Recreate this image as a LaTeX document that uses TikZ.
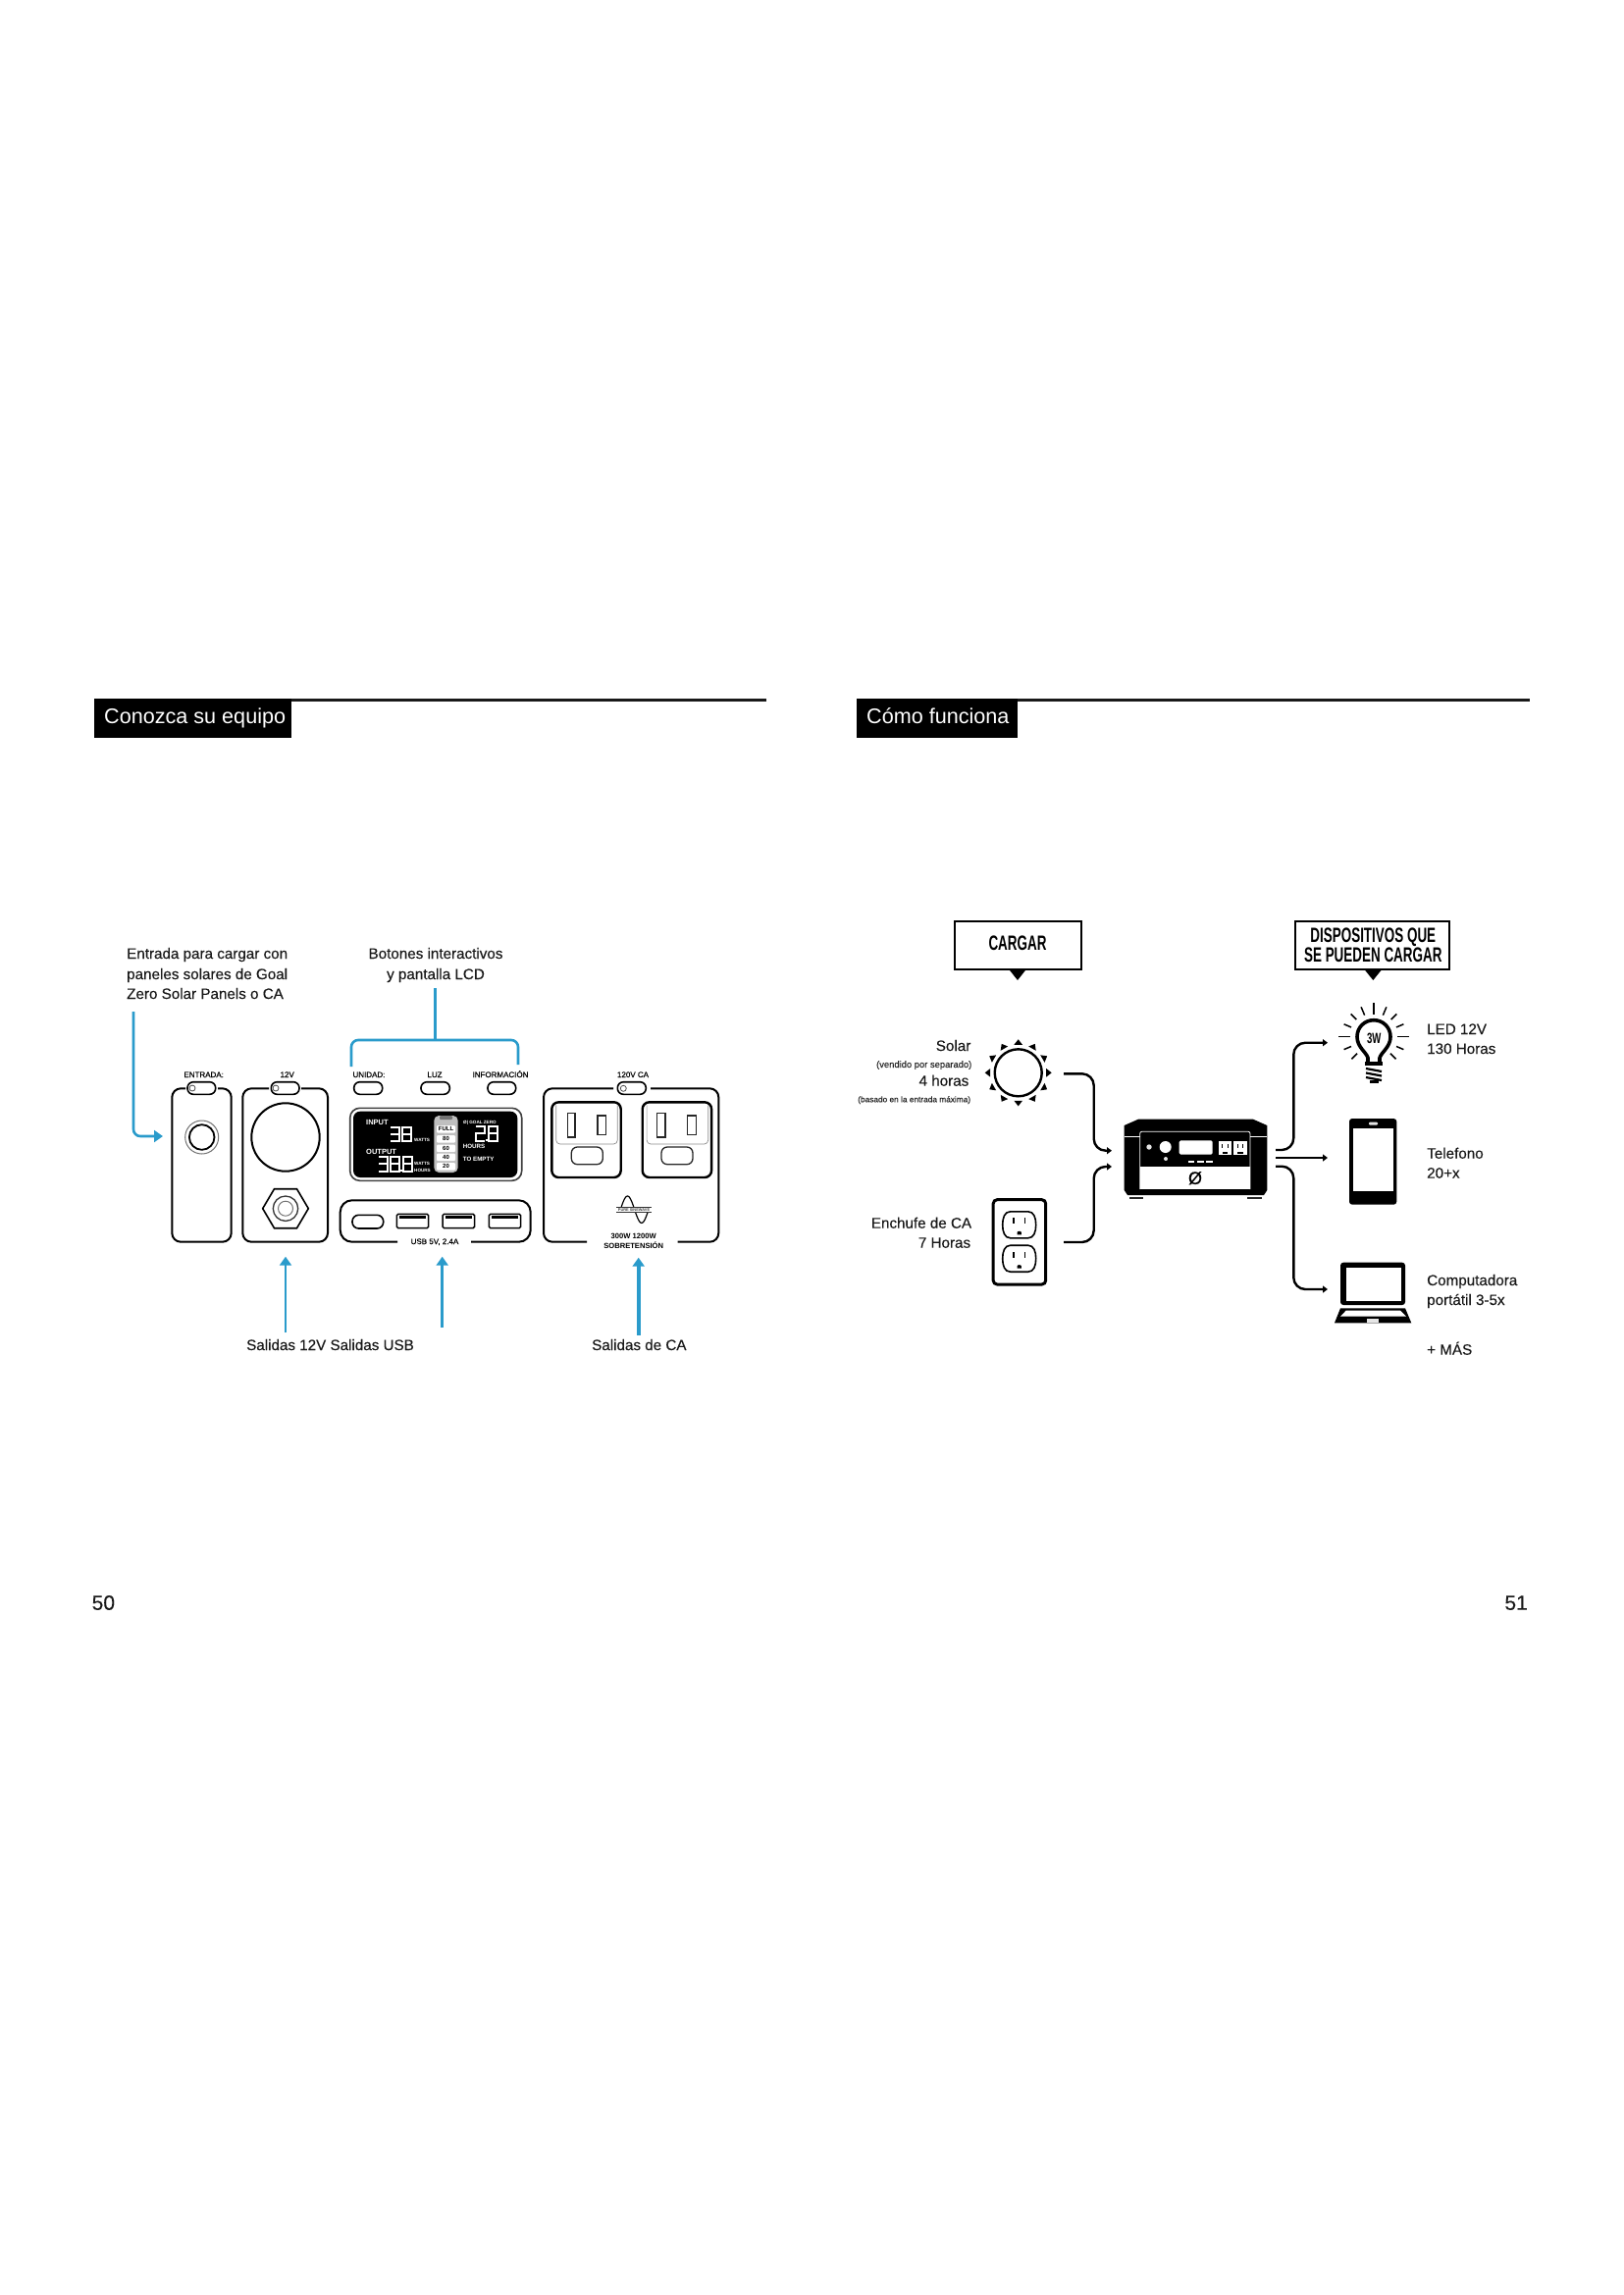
\documentclass[tikz,border=0pt]{standalone}
\usepackage{fontspec}
\usetikzlibrary{arrows.meta}
\setmainfont{Liberation Sans}
\newfontfamily\condfont[FakeStretch=0.64]{Liberation Sans}
\newfontfamily\medfont[FakeBold=0.35]{Liberation Sans}
\newfontfamily\bodyfont[FakeBold=0.12]{Liberation Sans}
\definecolor{wireblue}{HTML}{2A9BCB}
\newcommand{\fsz}[1]{\fontsize{#1}{#1}\selectfont}
\newcommand{\segthree}[4]{\draw[segline] (#1,#2) -- (#1+#3,#2) -- (#1+#3,#2+#4) -- (#1,#2+#4) (#1,#2+#4/2) -- (#1+#3,#2+#4/2);}
\newcommand{\segeight}[4]{\draw[segline] (#1,#2) rectangle (#1+#3,#2+#4) (#1,#2+#4/2) -- (#1+#3,#2+#4/2);}
\newcommand{\segtwo}[4]{\draw[segline] (#1,#2) -- (#1+#3,#2) -- (#1+#3,#2+#4/2) -- (#1,#2+#4/2) -- (#1,#2+#4) -- (#1+#3,#2+#4);}
\tikzset{
  body/.style={font=\bodyfont\fsz{15.2},inner sep=0pt,text=black!90},
  pagenum/.style={font=\bodyfont\fsz{21},inner sep=0pt,text=black!90},
  headtxt/.style={font=\fsz{21.6},inner sep=0pt,text=white},
  tiny/.style={font=\medfont\fsz{8},inner sep=0pt,text=black},
  tinybold/.style={font=\fsz{7.6}\bfseries,inner sep=0pt,text=black},
  note/.style={font=\bodyfont\fsz{8.3},inner sep=0pt,text=black!85},
  lcdtxt/.style={font=\fsz{7.5}\bfseries,inner sep=0pt,text=white},
  lcdsmall/.style={font=\fsz{4.6}\bfseries,inner sep=0pt,text=white},
  cell/.style={font=\fsz{6}\bfseries,inner sep=0pt,text=black},
  boxtitle/.style={font=\condfont\bfseries\fsz{21},inner sep=0pt,text=black},
  panel/.style={draw=black,line width=2pt,rounded corners=9pt},
  pill/.style={draw=black,line width=1.6pt,rounded corners=6pt,fill=white},
  bluewire/.style={draw=wireblue,line width=2.6pt,rounded corners=7pt},
  bluearrow/.style={draw=wireblue,line width=2.6pt,rounded corners=7pt,-{Triangle[length=9pt,width=12pt,fill=wireblue]}},
  blackarrow/.style={draw=black,line width=2.4pt,rounded corners=12pt,-{Triangle[length=5pt,width=7pt]}},
  segline/.style={draw=white,line width=2pt,line cap=butt},
  outletbox/.style={draw=black,line width=2.4pt,rounded corners=7pt},
  slot/.style={draw=black!85,line width=1.3pt},
  titlebox/.style={draw=black,line width=2.2pt,fill=white},
  wallsocket/.pic={
    \draw[line width=1.6pt] (-9,-13.5) -- (9,-13.5) .. controls (15,-13.5) and (17,-7) .. (17,0) .. controls (17,7) and (15,13.5) .. (9,13.5) -- (-9,13.5) .. controls (-15,13.5) and (-17,7) .. (-17,0) .. controls (-17,-7) and (-15,-13.5) .. (-9,-13.5) -- cycle;
    \fill (-6.6,-7) rectangle (-5.2,-1);
    \fill (5.2,-7) rectangle (6.6,-1);
    \fill (-2.2,10) -- (-2.2,7.8) .. controls (-2.2,6) and (2.2,6) .. (2.2,7.8) -- (2.2,10) -- cycle;
  },
  usbport/.pic={
    \draw[line width=1.5pt,rounded corners=1.5pt] (0,0) rectangle (32.4,14.4);
    \fill (3,1.5) rectangle (29.4,5);
  },
  acoutlet/.pic={
    \draw[outletbox] (0,0) rectangle (70.4,76.7);
    \draw[draw=black!45,line width=.7pt,rounded corners=4pt] (4.4,3) -- (4.4,42.7) -- (67,42.7) -- (67,3);
  }
}
\begin{document}
\begin{tikzpicture}[x=1pt,y=-1pt]
\useasboundingbox (0,0) rectangle (1654,2339);
\fill[white] (0,0) rectangle (1654,2339);

% ---- page headers
\draw[black!90,line width=2.6pt] (96,713.5) -- (781,713.5);
\fill[black] (96,712) rectangle (297,752);
\node[headtxt,anchor=base west] (hleft) at (106,737.5) {Conozca su equipo};
\draw[black!90,line width=2.6pt] (873,713.5) -- (1558.5,713.5);
\fill[black] (873,712) rectangle (1036.5,752);
\node[headtxt,anchor=base west] (hright) at (883,737.5) {Cómo funciona};
\node[pagenum,anchor=base west] (p50) at (93.5,1640.7) {50};
\node[pagenum,anchor=base east] (p51) at (1557,1640.7) {51};

% ---- left page: text
\node[body,anchor=base west] (t1a) at (129,977) {Entrada para cargar con};
\node[body,anchor=base west] (t1b) at (129,998) {paneles solares de Goal};
\node[body,anchor=base west] (t1c) at (129,1018) {Zero Solar Panels o CA};
\node[body,anchor=base] (t2a) at (444,977) {Botones interactivos};
\node[body,anchor=base] (t2b) at (444,998) {y pantalla LCD};
\node[body,anchor=base west] (t3) at (251,1376) {Salidas 12V Salidas USB};
\node[body,anchor=base west] (t4) at (603,1376) {Salidas de CA};

% small labels
\node[tiny,anchor=base] (lent) at (207.7,1098) {ENTRADA:};
\node[tiny,anchor=base] (l12) at (292.7,1098) {12V};
\node[tiny,anchor=base] (luni) at (376,1098) {UNIDAD:};
\node[tiny,anchor=base] (lluz) at (443,1098) {LUZ};
\node[tiny,anchor=base] (linf) at (510,1098) {INFORMACIÓN};
\node[tiny,anchor=base] (lac) at (645,1098) {120V CA};
\node[tiny,anchor=base] (lusb) at (443,1268) {USB 5V, 2.4A};
\node[tinybold,anchor=base] (l300) at (645.7,1262.7) {300W 1200W};
\node[tinybold,anchor=base] (lsob) at (645.7,1272.7) {SOBRETENSIÓN};

% blue connectors
\coordinate (bA) at (136,1031); \coordinate (bAc) at (136,1158); \coordinate (bAe) at (166,1158);
\draw[bluearrow] (bA) -- (bAc) -- (bAe);
\coordinate (bBt) at (443.7,1007); \coordinate (bBm) at (443.7,1060);
\draw[bluewire,rounded corners=0pt] (bBt) -- (bBm);
\coordinate (bBl) at (358,1087); \coordinate (bBlc) at (358,1060); \coordinate (bBrc) at (528,1060); \coordinate (bBr) at (528,1085);
\draw[bluewire] (bBl) -- (bBlc) -- (bBrc) -- (bBr);
\coordinate (bC) at (291,1358.3); \coordinate (bCe) at (291,1280.7);
\draw[bluearrow] (bC) -- (bCe);
\coordinate (bD) at (450.7,1353); \coordinate (bDe) at (450.7,1280.7);
\draw[bluearrow] (bD) -- (bDe);
\coordinate (bE) at (650.7,1360.7); \coordinate (bEe) at (650.7,1281.7);
\draw[bluearrow,line width=3.8pt] (bE) -- (bEe);

% entrada panel
\draw[panel] (189,1109.3) -- (175.3,1109.3) -- (175.3,1265.7) -- (235.7,1265.7) -- (235.7,1109.3) -- (222,1109.3);
\draw[pill] (191,1102.7) rectangle (219.7,1115.3);
\draw[black!70,line width=.8pt] (196,1109) circle[radius=3];
\draw[black!55,line width=1pt] (205.7,1159) circle[radius=17];
\draw[black,line width=1.8pt] (205.7,1159) circle[radius=12.8];

% 12V panel
\draw[panel] (274,1109.3) -- (247.3,1109.3) -- (247.3,1265.7) -- (334,1265.7) -- (334,1109.3) -- (307,1109.3);
\draw[pill] (276.3,1102.7) rectangle (305,1115.3);
\draw[black!70,line width=.8pt] (281,1109) circle[radius=3];
\draw[black,line width=2pt] (291,1159) circle[radius=34.7];
\draw[black,line width=1.6pt] (267.7,1231.7) -- (279.5,1211.7) -- (302.5,1211.7) -- (314.3,1231.7) -- (302.5,1251.7) -- (279.5,1251.7) -- cycle;
\draw[black!80,line width=1.3pt] (291,1231.7) circle[radius=12.7];
\draw[black!55,line width=1pt] (291,1231.7) circle[radius=7.5];

% middle buttons
\draw[pill] (360.7,1102.7) rectangle (389.7,1115.3);
\draw[pill] (429,1102.7) rectangle (458.3,1115.3);
\draw[pill] (497,1102.7) rectangle (525.7,1115.3);

% LCD
\draw[black!75,line width=1.6pt,rounded corners=10pt] (356.7,1129.3) rectangle (531.7,1203.3);
\fill[black,rounded corners=7pt] (360,1132.7) rectangle (527.3,1200);
\node[lcdtxt,anchor=base west] (inp) at (373,1146) {INPUT};
\node[lcdtxt,anchor=base west] (oup) at (373,1176.7) {OUTPUT};
\segthree{398}{1148.5}{8.5}{14}
\segeight{410}{1148.5}{8.5}{14}
\segthree{386}{1179}{8.5}{14.5}
\segeight{398}{1179}{8.5}{14.5}
\fill[white] (408.4,1192.3) rectangle (410,1194);
\segeight{411}{1179}{8.5}{14.5}
\node[lcdsmall,anchor=base west] (wa1) at (422,1163.5) {WATTS};
\node[lcdsmall,anchor=base west] (wa2) at (422,1187) {WATTS};
\node[lcdsmall,anchor=base west] (ho2) at (422,1194) {HOURS};
% battery
\fill[black!25,rounded corners=5pt] (442.3,1137) rectangle (466.7,1195);
\fill[black!55,rounded corners=1pt] (448,1137) rectangle (461,1141);
\foreach \yy/\tt/\nn in {1147/FULL/c1,1157/80/c2,1166.5/60/c3,1175.5/40/c4,1185/20/c5}{
  \fill[white,rounded corners=1pt] (445,\yy) rectangle (464,\yy+7.6);
  \node[cell,anchor=center] (\nn) at (454.5,\yy+3.8) {\tt};
}
\node[lcdsmall,anchor=base west] (gz) at (472,1145) {Ø| GOAL ZERO};
\segtwo{485}{1148}{8.5}{14.5}
\fill[white] (495,1161) rectangle (496.6,1162.7);
\segeight{498}{1148}{8.5}{14.5}
\node[font=\fsz{6.2}\bfseries,inner sep=0pt,text=white,anchor=base west] (hrs) at (471.7,1170) {HOURS};
\node[font=\fsz{6.2}\bfseries,inner sep=0pt,text=white,anchor=base west] (emp) at (471.7,1183) {TO EMPTY};

% USB panel
\draw[panel,rounded corners=12pt] (405,1265.7) -- (346.7,1265.7) -- (346.7,1223.3) -- (540.7,1223.3) -- (540.7,1265.7) -- (480,1265.7);
\draw[pill,rounded corners=6.5pt] (359,1238.3) rectangle (390.7,1252);
\pic[black] at (404.3,1237.3) {usbport};
\pic[black] at (451.1,1237.3) {usbport};
\pic[black] at (498.3,1237.3) {usbport};

% AC panel
\draw[panel] (625,1109.3) -- (554,1109.3) -- (554,1265.7) -- (598,1265.7);
\draw[panel] (663,1109.3) -- (732.3,1109.3) -- (732.3,1265.7) -- (690.7,1265.7);
\draw[pill] (629.3,1102.7) rectangle (658.3,1115.3);
\draw[black!70,line width=.8pt] (635.3,1109.3) circle[radius=3];
\pic at (562.3,1123.3) {acoutlet};
\pic at (654.7,1123.3) {acoutlet};
\draw[slot] (578.3,1134.3) rectangle (586,1159);
\draw[slot] (609,1137) rectangle (617.7,1156.3);
\draw[slot,rounded corners=6pt] (582.3,1169) rectangle (614.3,1186.7);
\draw[slot] (669.7,1134.3) rectangle (678,1159);
\draw[slot] (700.3,1137) rectangle (709.3,1156.3);
\draw[slot,rounded corners=6pt] (674,1169) rectangle (706,1186.7);
\draw[black,line width=1.2pt,smooth] plot[domain=0:360,samples=37] ({632.3+\x/360*28.7},{1232.7-13.7*sin(\x)});
\fill[white] (628,1230) rectangle (664,1235.5);
\draw[black!80,line width=.6pt] (628,1230) -- (664,1230) (628,1235.5) -- (664,1235.5);
\node[font=\fsz{3.9}\bfseries,inner sep=0pt,text=black!75] (pure) at (646,1232.8) {PURE SINEWAVE};

% ---- right page: boxes
\draw[titlebox] (972.8,939.3) rectangle (1101.7,987.7);
\fill[black] (1028.3,988) -- (1045.7,988) -- (1037,999) -- cycle;
\node[boxtitle] (cargar) at (1037,961.7) {CARGAR};
\draw[titlebox] (1320,939.3) rectangle (1477.3,988.3);
\fill[black] (1390.7,988.3) -- (1408,988.3) -- (1399.3,999) -- cycle;
\node[boxtitle,anchor=base] (disp1) at (1399.3,960) {DISPOSITIVOS QUE};
\node[boxtitle,anchor=base] (disp2) at (1399.3,980) {SE PUEDEN CARGAR};

% source texts
\node[body,anchor=base east] (s1) at (989.5,1071) {Solar};
\node[font=\bodyfont\fsz{9.4},inner sep=0pt,text=black!85,anchor=base east] (s2) at (990.5,1088) {(vendido por separado)};
\node[body,anchor=base east] (s3) at (987.5,1106.7) {4 horas};
\node[note,anchor=base east] (s4) at (989.3,1123.3) {(basado en la entrada máxima)};
\node[body,anchor=base east] (s5) at (990.3,1251.7) {Enchufe de CA};
\node[body,anchor=base east] (s6) at (989.3,1271.7) {7 Horas};

% sun
\draw[black,line width=2.4pt] (1037.7,1093.3) circle[radius=24];
\foreach \a in {0,30,...,330}{
  \fill[black,shift={(1037.7,1093.3)},rotate=\a] (28.5,-4.3) -- (34,0) -- (28.5,4.3) -- cycle;
}

% wall outlet
\draw[black,line width=3pt,rounded corners=4pt] (1012.2,1222.7) rectangle (1065.7,1309);
\pic[black] at (1038.7,1248.3) {wallsocket};
\pic[black] at (1038.7,1282.7) {wallsocket};

% power station
\fill[black] (1145.7,1147) -- (1160,1140.7) -- (1277,1140.7) -- (1291.3,1147) -- (1291.3,1213) -- (1288,1218) -- (1149,1218) -- (1145.7,1213) -- cycle;
\draw[white,line width=.8pt] (1145.7,1158.3) -- (1161.7,1158.3);
\draw[white,line width=.8pt] (1274,1158.3) -- (1291.3,1158.3);
\draw[white,line width=.8pt,rounded corners=2pt] (1161.7,1212) -- (1161.7,1153.3) -- (1274,1153.3) -- (1274,1212);
\fill[white] (1162,1189.3) rectangle (1273.7,1212.3);
\fill[black!85] (1150.7,1220) rectangle (1165,1221.5);
\fill[black!85] (1270.7,1220) rectangle (1285.7,1221.5);
\fill[white!90!black] (1171,1169) circle[radius=2.7];
\fill[white] (1187.7,1169) circle[radius=6];
\fill[white!90!black] (1188,1181) circle[radius=2];
\fill[white,rounded corners=1.5pt] (1201.7,1162.3) rectangle (1235.7,1176.7);
\foreach \xx in {1241.7,1257.3}{
  \fill[white] (\xx,1163.3) rectangle (\xx+13.4,1177.3);
  \fill[black] (\xx+3.4,1165.5) rectangle (\xx+4.6,1170);
  \fill[black] (\xx+8.8,1165.5) rectangle (\xx+10,1170);
  \fill[black] (\xx+4,1173.5) rectangle (\xx+9.4,1176);
}
\foreach \xx in {1210.7,1220,1229}{
  \fill[white] (\xx,1183.2) rectangle (\xx+6.5,1185.4);
}
\node[font=\medfont\fsz{18},inner sep=0pt,text=black] (zero) at (1218,1200.7) {Ø};

% black connectors
\coordinate (w1s) at (1084,1094.3); \coordinate (w1a) at (1114.7,1094.3); \coordinate (w1b) at (1114.7,1172.7); \coordinate (w1e) at (1133,1172.7);
\draw[blackarrow] (w1s) -- (w1a) -- (w1b) -- (w1e);
\coordinate (w2s) at (1084,1266); \coordinate (w2a) at (1114.7,1266); \coordinate (w2b) at (1114.7,1189); \coordinate (w2e) at (1133,1189);
\draw[blackarrow] (w2s) -- (w2a) -- (w2b) -- (w2e);
\coordinate (w3s) at (1300,1172); \coordinate (w3a) at (1318.3,1172); \coordinate (w3b) at (1318.3,1062.7); \coordinate (w3e) at (1353,1062.7);
\draw[blackarrow] (w3s) -- (w3a) -- (w3b) -- (w3e);
\coordinate (w4s) at (1300,1180); \coordinate (w4e) at (1353,1180);
\draw[blackarrow,line width=1.6pt] (w4s) -- (w4e);
\coordinate (w5s) at (1300,1188.7); \coordinate (w5a) at (1318.3,1188.7); \coordinate (w5b) at (1318.3,1314); \coordinate (w5e) at (1353,1314);
\draw[blackarrow] (w5s) -- (w5a) -- (w5b) -- (w5e);

% bulb
\foreach \a/\ri/\ro in {90/23/35,113/24/33,67/24/33,135/25/33,45/25/33,157/25/33,23/25/33,180/24/36,0/24/36,203/25/33,-23/25/33,225/24/32,-45/24/32}{
  \draw[black,line width=1.5pt] ({1400+\ri*cos(\a)},{1056.7-\ri*sin(\a)}) -- ({1400+\ro*cos(\a)},{1056.7-\ro*sin(\a)});
}
\draw[black,line width=3.6pt,line join=round] (1394,1083) -- (1394,1078) .. controls (1392,1072) and (1383,1067) .. (1383,1056.7) .. controls (1383,1047) and (1390.5,1039.7) .. (1400,1039.7) .. controls (1409.5,1039.7) and (1417,1047) .. (1417,1056.7) .. controls (1417,1067) and (1408,1072) .. (1406,1078) -- (1406,1083);
\fill[black] (1391,1082) rectangle (1409,1086);
\draw[black,line width=2.2pt] (1392,1089) -- (1408,1092) (1392,1093.5) -- (1408,1096.5) (1392,1098) -- (1408,1101);
\fill[black] (1396,1100.5) rectangle (1405,1103.5);
\node[font=\condfont\bfseries\fsz{15},inner sep=0pt,text=black] (w3) at (1400.3,1058) {3W};

% phone
\fill[black,rounded corners=3pt] (1375,1140) rectangle (1423.3,1227.7);
\fill[white] (1379,1150) rectangle (1420,1214);
\fill[white!90!black,rounded corners=1pt] (1395,1143.7) rectangle (1404,1146.7);

% laptop
\fill[black,rounded corners=3pt] (1366,1286.7) rectangle (1432,1330);
\fill[white] (1371.7,1291.7) rectangle (1427.7,1326);
\fill[black] (1366,1333.3) -- (1432,1333.3) -- (1438.3,1348.3) -- (1360,1348.3) -- cycle;
\fill[white] (1371.7,1335.7) -- (1427,1335.7) -- (1433,1341.7) -- (1366,1341.7) -- cycle;
\fill[white!90!black] (1393,1343.5) rectangle (1405,1347.5);

% device texts
\node[body,anchor=base west] (d1) at (1454,1054) {LED 12V};
\node[body,anchor=base west] (d2) at (1454,1074) {130 Horas};
\node[body,anchor=base west] (d3) at (1454,1180.7) {Telefono};
\node[body,anchor=base west] (d4) at (1454,1200.7) {20+x};
\node[body,anchor=base west] (d5) at (1454,1310) {Computadora};
\node[body,anchor=base west] (d6) at (1454,1330) {portátil 3-5x};
\node[body,anchor=base west] (d7) at (1454,1380.7) {+ MÁS};
\end{tikzpicture}
\end{document}
